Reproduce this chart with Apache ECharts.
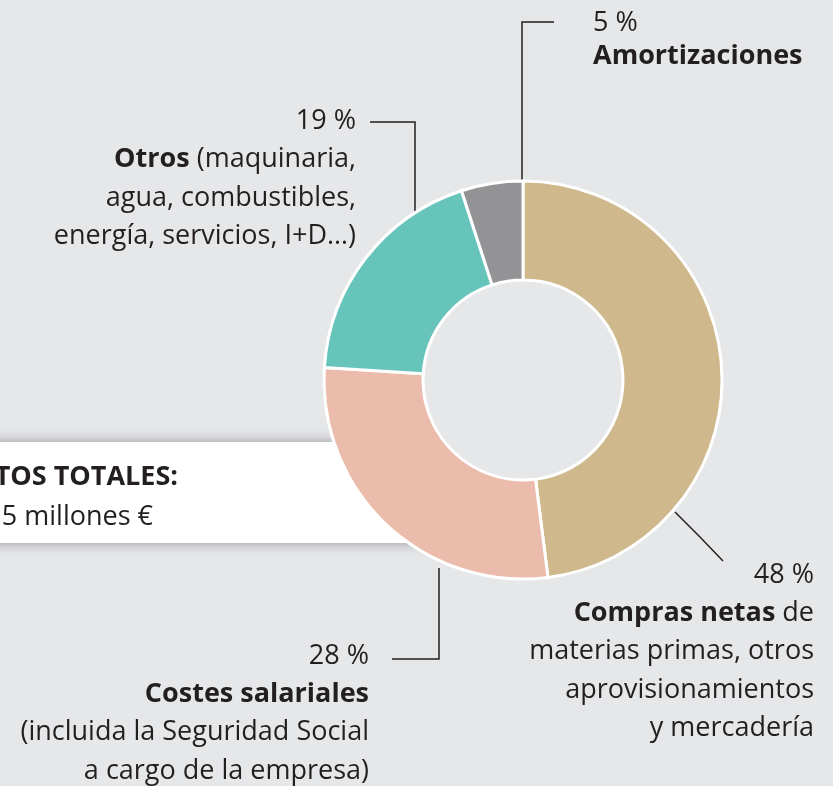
<!DOCTYPE html>
<html>
<head>
<meta charset="utf-8">
<script src="https://cdn.jsdelivr.net/npm/echarts@6/dist/echarts.min.js"></script>
<style>
  html, body { margin: 0; padding: 0; background: #e6e7e9; }
</style>
</head>
<body>
<div id="gastos" style="width: 833px; height: 786px;"></div>
<script>
// datos del gráfico
const categories = ['Compras netas', 'Costes salariales', 'Otros', 'Amortizaciones'];
const values = [48, 28, 19, 5];
const colors = ['#cfb88b', '#ebbcab', '#66c4bb', '#939396'];
// texto de cada etiqueta ({b|...} = negrita)
const labelLines = [
  ['48 %', '{b|Compras netas} de', 'materias primas, otros', 'aprovisionamientos', 'y mercadería'],
  ['28 %', '{b|Costes salariales}', '(incluida la Seguridad Social', 'a cargo de la empresa)'],
  ['19 %', '{b|Otros} (maquinaria,', 'agua, combustibles,', 'energía, servicios, I+D…)'],
  ['5 %', '{b|Amortizaciones}']
];
const totalLines = ['GASTOS TOTALES:', '5 millones €'];

// posición de etiquetas y líneas guía
const labelPos = [
  { x: 814, y: 556, align: 'right', lh: 38.3, line: [[675, 512], [700, 537], [723, 561]] },
  { x: 369, y: 637, align: 'right', lh: 38.3, line: [[439, 568], [439, 659], [392, 659]] },
  { x: 356, y: 102, align: 'right', lh: 38.5, line: [[415, 212], [415, 122], [370, 122]] },
  { x: 593, y: 7, align: 'left', lh: 33, line: [[522, 183], [522, 22], [554, 22]] }
];

const font = '"Open Sans", sans-serif';
const fontSize = 27;
const chart = echarts.init(document.getElementById('gastos'));

const option = {
  backgroundColor: '#e6e7e9',
  animation: false,
  graphic: [
    {
      type: 'rect',
      shape: { x: -20, y: 442, width: 445, height: 101 },
      style: { fill: '#ffffff', shadowBlur: 12, shadowColor: 'rgba(0,0,0,0.35)' }
    },
    {
      type: 'text',
      style: {
        x: 178, y: 477, text: totalLines[0], align: 'right', verticalAlign: 'middle',
        font: 'bold ' + fontSize + 'px ' + font, fill: '#231f20'
      }
    },
    {
      type: 'text',
      style: {
        x: 153, y: 517, text: totalLines[1], align: 'right', verticalAlign: 'middle',
        font: fontSize + 'px ' + font, fill: '#231f20'
      }
    }
  ],
  series: [
    {
      type: 'pie',
      center: [523, 380],
      radius: [100, 199],
      startAngle: 90,
      clockwise: true,
      avoidLabelOverlap: false,
      itemStyle: { borderColor: '#ffffff', borderWidth: 3 },
      label: {
        show: true,
        position: 'outside',
        fontFamily: font,
        fontSize: fontSize,
        color: '#231f20'
      },
      labelLine: {
        show: true,
        lineStyle: { color: '#231f20', width: 1.5 }
      },
      labelLayout: function (params) {
        const p = labelPos[params.dataIndex];
        return {
          x: p.x,
          y: p.y,
          align: p.align,
          verticalAlign: 'top',
          labelLinePoints: p.line
        };
      },
      data: categories.map(function (name, i) {
        const lh = labelPos[i].lh;
        return {
          name: name,
          value: values[i],
          itemStyle: { color: colors[i] },
          label: {
            formatter: labelLines[i].join('\n'),
            align: labelPos[i].align,
            lineHeight: lh,
            rich: {
              b: { fontFamily: font, fontSize: fontSize, lineHeight: lh, fontWeight: 'bold', color: '#231f20' }
            }
          }
        };
      })
    }
  ]
};

chart.setOption(option);
</script>
</body>
</html>
